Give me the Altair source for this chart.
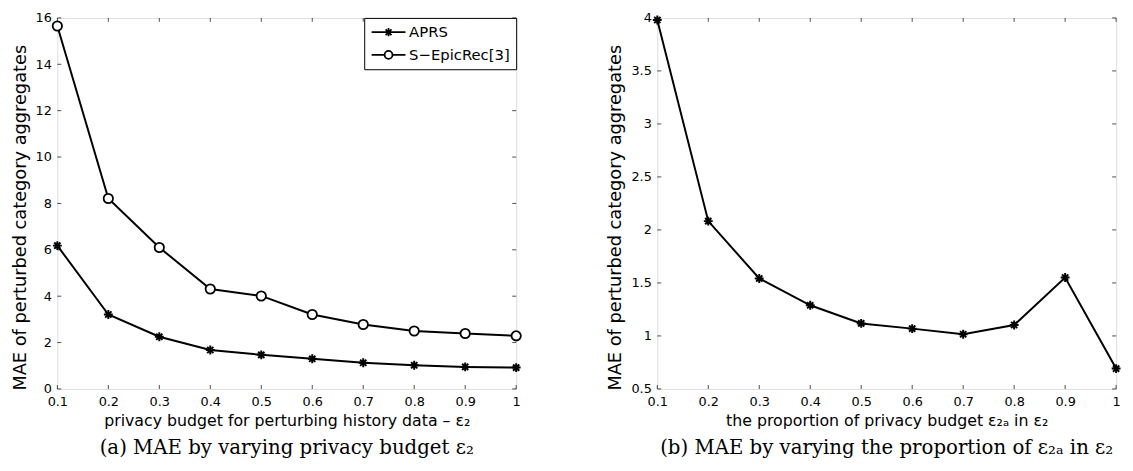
import altair as alt
import pandas as pd

# ---------------- data ----------------
x_vals = [0.1, 0.2, 0.3, 0.4, 0.5, 0.6, 0.7, 0.8, 0.9, 1.0]
aprs_mae = [6.18, 3.21, 2.25, 1.68, 1.47, 1.30, 1.13, 1.02, 0.95, 0.92]
epicrec_mae = [15.65, 8.21, 6.10, 4.31, 4.01, 3.21, 2.78, 2.50, 2.39, 2.29]
proportion_mae = [3.98, 2.083, 1.542, 1.289, 1.118, 1.069, 1.016, 1.103, 1.551, 0.692]

series_names = ["APRS", "S\u2212EpicRec[3]"]
x_ticks = [0.1, 0.2, 0.3, 0.4, 0.5, 0.6, 0.7, 0.8, 0.9, 1.0]
y_ticks_a = [0, 2, 4, 6, 8, 10, 12, 14, 16]
y_ticks_b = [0.5, 1, 1.5, 2, 2.5, 3, 3.5, 4]

W, H = 465, 376
FONT = "DejaVu Sans"
SERIF = "DejaVu Serif"

df_a = pd.DataFrame({
    "x": x_vals * 2,
    "mae": aprs_mae + epicrec_mae,
    "series": [series_names[0]] * len(x_vals) + [series_names[1]] * len(x_vals),
})
df_b = pd.DataFrame({"x": x_vals, "mae": proportion_mae})

# marker shapes (unit coords)
STAR = "M-1,0L1,0M0,-1L0,1M-0.7,-0.7L0.7,0.7M-0.7,0.7L0.7,-0.7"
CIRCLE = "M1,0A1,1 0 1,1 -1,0A1,1 0 1,1 1,0Z"
# legend symbols: line + marker (scale: 1 unit = 7 px)
LEG_STAR = "M-1,0L3.9,0M0.95,0L2.05,0M1.45,-0.6L1.45,0.6M1.02,-0.42L1.88,0.42M1.02,0.42L1.88,-0.42"
LEG_CIRCLE = "M-1,0L0.88,0M2.02,0L3.9,0M2.02,0A0.57,0.57 0 1,1 0.88,0A0.57,0.57 0 1,1 2.02,0Z"


def x_axis(title):
    return alt.Axis(values=x_ticks, format="~g", title=title, ticks=False, domain=False,
                    grid=False, labelFlush=False, labelOverlap=False, labelFont=FONT,
                    labelFontSize=13, labelColor="black", labelPadding=7,
                    titleFont=FONT, titleFontSize=16, titleFontWeight="normal",
                    titleColor="black", titlePadding=4)


def y_axis(values, tpad):
    return alt.Axis(values=values, format="~g", title="MAE of perturbed category aggregates",
                    ticks=False, domain=False, grid=False, labelFlush=False,
                    labelOverlap=False, labelFont=FONT, labelFontSize=13,
                    labelColor="black", labelPadding=6, titleFont=FONT, titleFontSize=18,
                    titleFontWeight="normal", titleColor="black", titlePadding=tpad,
                    titleY=H / 2 + 14)


def inner_ticks(xscale, yscale, yvals):
    xt = pd.DataFrame({"t": x_ticks})
    yt = pd.DataFrame({"t": yvals})
    bot = alt.Chart(xt).mark_tick(orient="vertical", color="black", size=4, thickness=1).encode(
        x=alt.X("t:Q", scale=xscale), y=alt.value(H - 2))
    top = alt.Chart(xt).mark_tick(orient="vertical", color="black", size=4, thickness=1).encode(
        x=alt.X("t:Q", scale=xscale), y=alt.value(2))
    lef = alt.Chart(yt).mark_tick(orient="horizontal", color="black", size=4, thickness=1).encode(
        y=alt.Y("t:Q", scale=yscale), x=alt.value(2))
    rig = alt.Chart(yt).mark_tick(orient="horizontal", color="black", size=4, thickness=1).encode(
        y=alt.Y("t:Q", scale=yscale), x=alt.value(W - 2))
    return [bot, top, lef, rig]


# ---------------- chart (a) ----------------
xs = alt.Scale(domain=[0.1, 1.0], nice=False, zero=False)
ys_a = alt.Scale(domain=[0, 16], nice=False, zero=False)
ys_b = alt.Scale(domain=[0.5, 4], nice=False, zero=False)

base_a = alt.Chart(df_a).encode(
    x=alt.X("x:Q", scale=xs, axis=x_axis("privacy budget for perturbing history data \u2013 \u03b5\u2082")),
    y=alt.Y("mae:Q", scale=ys_a, axis=y_axis(y_ticks_a, 6)),
)
lines_a = base_a.mark_line(color="black", strokeWidth=2).encode(detail="series:N")
stars_a = base_a.transform_filter(alt.datum.series == series_names[0]).mark_point(
    shape=STAR, size=81, filled=False, color="black", strokeWidth=2, opacity=1)
circles_a = base_a.transform_filter(alt.datum.series == series_names[1]).mark_point(
    shape=CIRCLE, size=90, filled=False, fill="white", color="black", strokeWidth=1.8, opacity=1)
legend_a = base_a.mark_point(opacity=0, filled=False).encode(
    shape=alt.Shape("series:N",
                    scale=alt.Scale(domain=series_names, range=[LEG_STAR, LEG_CIRCLE]),
                    legend=alt.Legend(title=None, orient="top-right", offset=0,
                                      strokeColor="black", fillColor="white", padding=6.5,
                                      symbolOpacity=1, symbolSize=196, symbolStrokeWidth=1.8,
                                      symbolStrokeColor="black", symbolFillColor="white",
                                      labelOffset=23, labelFont=FONT, labelFontSize=15,
                                      labelColor="black", rowPadding=7, cornerRadius=0)))

chart_a = alt.layer(lines_a, circles_a, stars_a, legend_a, *inner_ticks(xs, ys_a, y_ticks_a)).properties(
    width=W, height=H,
    title=alt.TitleParams("(a) MAE by varying privacy budget \u03b5\u2082", orient="bottom",
                          font=SERIF, fontSize=20, fontWeight="normal", color="black", offset=10),
)

# ---------------- chart (b) ----------------
base_b = alt.Chart(df_b).encode(
    x=alt.X("x:Q", scale=xs, axis=x_axis("the proportion of privacy budget \u03b5\u2082\u2090 in \u03b5\u2082")),
    y=alt.Y("mae:Q", scale=ys_b, axis=y_axis(y_ticks_b, 7)),
)
lines_b = base_b.mark_line(color="black", strokeWidth=2)
stars_b = base_b.mark_point(shape=STAR, size=81, filled=False, color="black", strokeWidth=2, opacity=1)

chart_b = alt.layer(lines_b, stars_b, *inner_ticks(xs, ys_b, y_ticks_b)).properties(
    width=W, height=H,
    title=alt.TitleParams("(b) MAE by varying the proportion of \u03b5\u2082\u2090 in \u03b5\u2082",
                          orient="bottom", font=SERIF, fontSize=20, fontWeight="normal",
                          color="black", offset=10),
)

chart = alt.hconcat(chart_a, chart_b, spacing=78).resolve_legend(shape="independent").resolve_scale(
    shape="independent", x="independent", y="independent"
).properties(
    padding={"left": 2, "top": 0, "right": 0, "bottom": 0}
).configure_view(stroke="black", strokeWidth=1.2).configure(background="white")

chart.save("out.html", embed_options={"renderer": "svg", "actions": False})
